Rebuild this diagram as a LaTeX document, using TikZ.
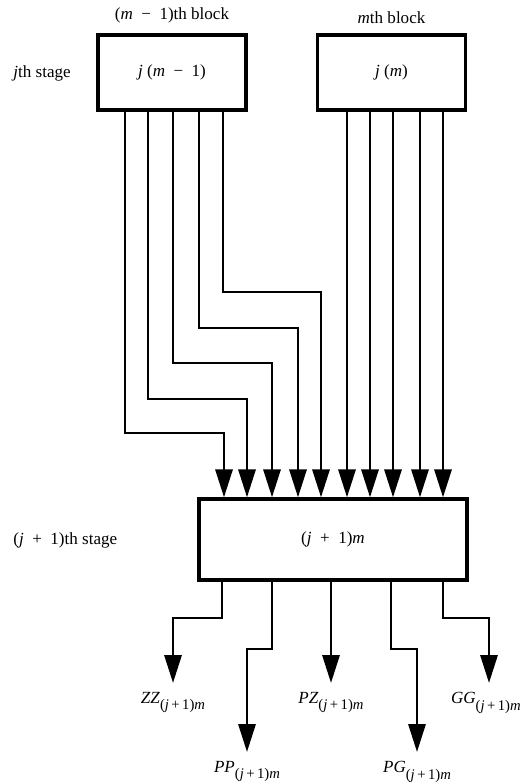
\documentclass[tikz,border=0pt]{standalone}
\usepackage{fontspec}
\setmainfont{Liberation Serif}
\usetikzlibrary{arrows.meta,positioning,calc}

\newcommand{\wsp}{\hspace{0.5em}}
\newcommand{\subidx}{\raisebox{-4pt}{\fontsize{9.5}{11}\selectfont(\textit{j}\,+\,1)\textit{m}}}

\begin{document}
\begin{tikzpicture}[
    x=0.0227cm, y=-0.0227cm,
    block/.style={rectangle, draw=black, line width=2.1pt, minimum width=3.36cm, minimum height=1.70cm, font=\fontsize{11}{13}\selectfont},
    wire/.style={line width=1.8pt},
    lbl/.style={font=\fontsize{11}{13}\selectfont},
    outlbl/.style={font=\fontsize{11}{13}\selectfont, inner sep=1pt},
    >={Triangle[length=18pt,width=11pt]}
]
\useasboundingbox (0,0) rectangle (527,782);

\node[block] (prev) at (172,72.5) {\textit{j} (\textit{m}\wsp−\wsp1)};
\node[block] (cur) at (391.5,72.5) {\textit{j} (\textit{m})};
\node[block, minimum width=6.08cm, minimum height=1.84cm] (next) at (333,539.5) {(\textit{j}\wsp+\wsp1)\textit{m}};

\node[lbl, above=3pt of prev] (prevlbl) {(\textit{m}\wsp−\wsp1)th block};
\node[lbl, above=3pt of cur] (curlbl) {\textit{m}th block};
\node[lbl, anchor=west] (stagej) at (8,73) {\textit{j}th stage};
\node[lbl, anchor=west] (stagenext) at (8,540) {(\textit{j}\wsp+\wsp1)th stage};

% wires from the (m-1)th block
\foreach \a/\t/\b in {125/433/224, 148/399/247, 173/363/272, 199/328/298, 223/292/321}
    \draw[wire,->] (prev.south -| \a,0) |- (\b,\t) -- (next.north -| \b,0);
% wires from the mth block
\foreach \a in {347,370,393,420,443}
    \draw[wire,->] (cur.south -| \a,0) -- (next.north -| \a,0);

% outputs
\coordinate (zz) at (173,683);
\coordinate (pp) at (247,752);
\coordinate (pz) at (331,683);
\coordinate (pg) at (417,752);
\coordinate (gg) at (489,683);

\draw[wire,->] (next.south -| 222,0) |- (zz |- 0,618) -- (zz);
\draw[wire,->] (next.south -| 272,0) |- (pp |- 0,649) -- (pp);
\draw[wire,->] (next.south -| pz) -- (pz);
\draw[wire,->] (next.south -| 391,0) |- (pg |- 0,649) -- (pg);
\draw[wire,->] (next.south -| 443,0) |- (gg |- 0,618) -- (gg);

\node[outlbl, below=5pt of zz] (zzlbl) {\textit{ZZ}\subidx};
\node[outlbl, below=5pt of pp] (pplbl) {\textit{PP}\subidx};
\node[outlbl, below=5pt of pz] (pzlbl) {\textit{PZ}\subidx};
\node[outlbl, below=5pt of pg] (pglbl) {\textit{PG}\subidx};
\node[outlbl, below=5pt of gg, xshift=-2pt] (gglbl) {\textit{GG}\subidx};

\end{tikzpicture}
\end{document}
